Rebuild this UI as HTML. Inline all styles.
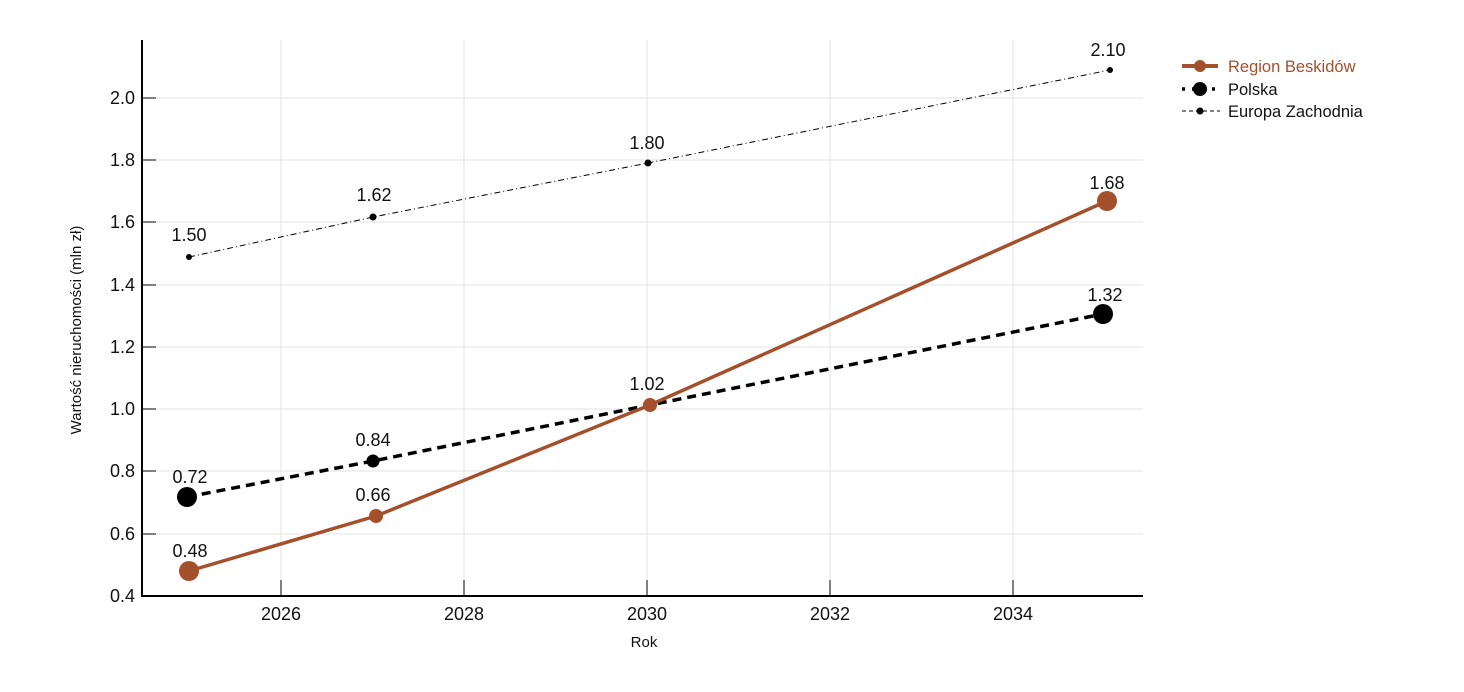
<!DOCTYPE html>
<html><head><meta charset="utf-8"><style>body{margin:0;background:#fff}</style></head><body>
<svg width="1464" height="687" xmlns="http://www.w3.org/2000/svg" font-family="Liberation Sans, sans-serif">
<rect width="1464" height="687" fill="#fff"/>
<g stroke="#e3e3e3" stroke-width="1">
<line x1="281" y1="40" x2="281" y2="596"/><line x1="464" y1="40" x2="464" y2="596"/><line x1="647" y1="40" x2="647" y2="596"/><line x1="830" y1="40" x2="830" y2="596"/><line x1="1013" y1="40" x2="1013" y2="596"/>
<line x1="142" y1="98" x2="1143" y2="98"/><line x1="142" y1="160" x2="1143" y2="160"/><line x1="142" y1="222" x2="1143" y2="222"/><line x1="142" y1="285" x2="1143" y2="285"/><line x1="142" y1="347" x2="1143" y2="347"/><line x1="142" y1="409" x2="1143" y2="409"/><line x1="142" y1="471" x2="1143" y2="471"/><line x1="142" y1="534" x2="1143" y2="534"/>
</g>
<g stroke="#555" stroke-width="1.5">
<line x1="281" y1="580" x2="281" y2="596"/><line x1="464" y1="580" x2="464" y2="596"/><line x1="647" y1="580" x2="647" y2="596"/><line x1="830" y1="580" x2="830" y2="596"/><line x1="1013" y1="580" x2="1013" y2="596"/>
<line x1="142" y1="98" x2="156" y2="98"/><line x1="142" y1="160" x2="156" y2="160"/><line x1="142" y1="222" x2="156" y2="222"/><line x1="142" y1="285" x2="156" y2="285"/><line x1="142" y1="347" x2="156" y2="347"/><line x1="142" y1="409" x2="156" y2="409"/><line x1="142" y1="471" x2="156" y2="471"/><line x1="142" y1="534" x2="156" y2="534"/>
</g>
<path d="M142 40 V596 H1143" fill="none" stroke="#000" stroke-width="2"/>
<g font-size="18" fill="#111" text-anchor="end">
<text x="135" y="104">2.0</text><text x="135" y="166">1.8</text><text x="135" y="228">1.6</text><text x="135" y="291">1.4</text><text x="135" y="353">1.2</text><text x="135" y="415">1.0</text><text x="135" y="477">0.8</text><text x="135" y="540">0.6</text><text x="135" y="602">0.4</text>
</g>
<g font-size="18" fill="#111" text-anchor="middle">
<text x="281" y="620">2026</text><text x="464" y="620">2028</text><text x="647" y="620">2030</text><text x="830" y="620">2032</text><text x="1013" y="620">2034</text>
</g>
<text x="644" y="647" font-size="15" text-anchor="middle" fill="#111">Rok</text>
<text transform="translate(81 330) rotate(-90)" font-size="15" text-anchor="middle" fill="#111">Wartość nieruchomości (mln zł)</text>
<polyline points="189,257 373,217 648,163 1110,70" fill="none" stroke="#000" stroke-width="1" stroke-dasharray="6,3,1,3"/>
<g fill="#000"><circle cx="189" cy="257" r="3"/><circle cx="373" cy="217" r="3.5"/><circle cx="648" cy="163" r="3.5"/><circle cx="1110" cy="70" r="3"/></g>
<polyline points="187,497 373,461 650,405 1103,314" fill="none" stroke="#000" stroke-width="3.5" stroke-dasharray="9,6"/>
<g fill="#000"><circle cx="187" cy="497" r="10"/><circle cx="373" cy="461" r="6.5"/><circle cx="650" cy="405" r="6.5"/><circle cx="1103" cy="314" r="10"/></g>
<polyline points="189,571 376,516 650,405 1107,201" fill="none" stroke="#a5502c" stroke-width="3.5"/>
<g fill="#a5502c"><circle cx="189" cy="571" r="10"/><circle cx="376" cy="516" r="7"/><circle cx="650" cy="405" r="7"/><circle cx="1107" cy="201" r="10"/></g>
<g font-size="18" fill="#111" text-anchor="middle">
<text x="189" y="241">1.50</text><text x="374" y="201">1.62</text><text x="647" y="149">1.80</text><text x="1108" y="56">2.10</text>
<text x="190" y="483">0.72</text><text x="373" y="446">0.84</text><text x="647" y="390">1.02</text><text x="1105" y="301">1.32</text>
<text x="190" y="557">0.48</text><text x="373" y="501">0.66</text><text x="1107" y="189">1.68</text>
</g>
<line x1="1182" y1="66" x2="1218" y2="66" stroke="#a5502c" stroke-width="4"/><circle cx="1200" cy="66" r="6" fill="#a5502c"/>
<text x="1228" y="72" font-size="16.5" fill="#a5502c">Region Beskidów</text>
<line x1="1182" y1="89" x2="1220" y2="89" stroke="#000" stroke-width="3.5" stroke-dasharray="3,7"/><circle cx="1200" cy="89" r="7" fill="#000"/>
<text x="1228" y="95" font-size="16.5" fill="#111">Polska</text>
<line x1="1182" y1="111" x2="1220" y2="111" stroke="#000" stroke-width="1" stroke-dasharray="4,3"/><circle cx="1200" cy="111" r="3.5" fill="#000"/>
<text x="1228" y="117" font-size="16.5" fill="#111">Europa Zachodnia</text>
</svg>
</body></html>
